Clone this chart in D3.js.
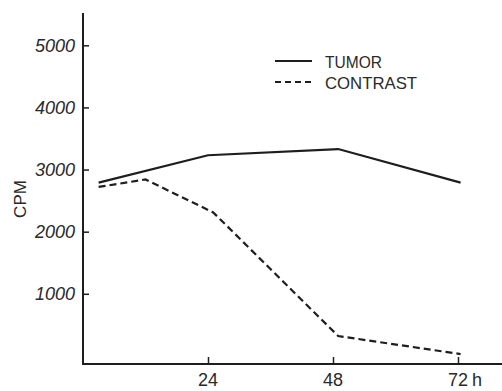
<!DOCTYPE html>
<html><head><meta charset="utf-8">
<script src="https://cdn.jsdelivr.net/npm/d3@7"></script>
<style>body{margin:0;background:#fff}svg{display:block}</style>
</head><body>
<svg id="c" width="502" height="391"></svg>
<script>
const tumorHours = [3, 24, 49, 72.5];
const tumorCPM = [2790, 3230, 3330, 2790];
const contrastHours = [3, 12, 25, 49, 72.5];
const contrastCPM = [2720, 2840, 2310, 320, 30];
const yTicks = [1000, 2000, 3000, 4000, 5000];
const xTicks = [24, 48, 72];
const seriesNames = ["TUMOR", "CONTRAST"];

const svg = d3.select("#c");
const x = d3.scaleLinear().domain([0, 24]).range([83, 208]);
const y = d3.scaleLinear().domain([-130, 5520]).range([364, 13]);
const ink = "#1e1e1e";
const font = "Liberation Sans, Arial, sans-serif";

// axes lines
svg.append("line").attr("x1", 83).attr("x2", 83).attr("y1", y(5520)).attr("y2", y(-130))
  .attr("stroke", ink).attr("stroke-width", 2);
svg.append("line").attr("x1", 82).attr("x2", 502).attr("y1", y(-130)).attr("y2", y(-130))
  .attr("stroke", ink).attr("stroke-width", 2);

// y axis ticks
const yAxis = d3.axisRight(y).tickValues(yTicks).tickSize(6).tickFormat("");
const gy = svg.append("g").attr("transform", "translate(83,0)").call(yAxis);
gy.select(".domain").remove();
gy.selectAll(".tick line").attr("stroke", ink).attr("stroke-width", 1.5);
svg.selectAll(".ylab").data(yTicks).enter().append("text")
  .attr("x", 75).attr("y", d => y(d) + 6.5).attr("text-anchor", "end")
  .attr("font-family", font).attr("font-style", "italic")
  .attr("font-size", 18).attr("fill", "#2a2a2a").text(d => d);

// x axis ticks
const xAxis = d3.axisTop(x).tickValues(xTicks).tickSize(7).tickFormat("");
const gx = svg.append("g").attr("transform", `translate(0,${y(-130)})`).call(xAxis);
gx.select(".domain").remove();
gx.selectAll(".tick line").attr("stroke", ink).attr("stroke-width", 1.5);
svg.selectAll(".xlab").data(xTicks).enter().append("text")
  .attr("x", d => x(d)).attr("y", 386).attr("text-anchor", "middle")
  .attr("font-family", font)
  .attr("font-size", 18).attr("fill", "#2a2a2a").text(d => d);
svg.append("text").attr("x", x(72) + 14).attr("y", 386)
  .attr("font-family", font)
  .attr("font-size", 18).attr("fill", "#2a2a2a").text("h");

// y label
svg.append("text").attr("transform", "translate(26,199) rotate(-90)")
  .attr("text-anchor", "middle").attr("font-family", font)
  .attr("font-size", 17).attr("fill", "#2a2a2a").text("CPM");

const line = d3.line().x(d => x(d[0])).y(d => y(d[1]));
svg.append("path").datum(d3.zip(tumorHours, tumorCPM)).attr("d", line)
  .attr("fill", "none").attr("stroke", ink).attr("stroke-width", 2.2);
svg.append("path").datum(d3.zip(contrastHours, contrastCPM)).attr("d", line)
  .attr("fill", "none").attr("stroke", ink).attr("stroke-width", 2.2)
  .attr("stroke-dasharray", "7,4");

// legend
svg.append("line").attr("x1", 275).attr("x2", 312).attr("y1", 61).attr("y2", 61)
  .attr("stroke", ink).attr("stroke-width", 2);
svg.append("line").attr("x1", 275).attr("x2", 312).attr("y1", 82).attr("y2", 82)
  .attr("stroke", ink).attr("stroke-width", 1.8).attr("stroke-dasharray", "6,4");
const lw = [57, 92];
seriesNames.forEach((n, i) => {
  svg.append("text").attr("x", 325).attr("y", 68 + i * 21)
    .attr("font-family", font).attr("font-size", 17)
    .attr("fill", "#2a2a2a").attr("textLength", lw[i]).attr("lengthAdjust", "spacingAndGlyphs")
    .text(n);
});
</script>
</body></html>
